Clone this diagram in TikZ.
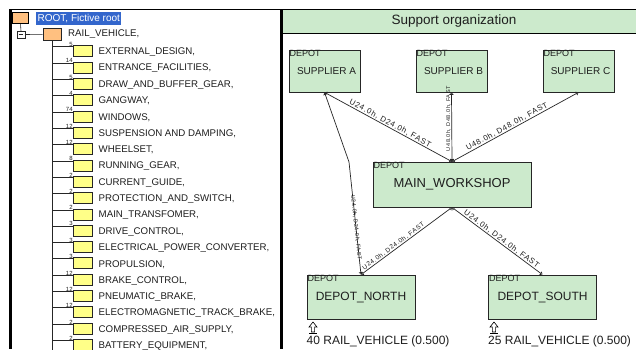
\documentclass[tikz,border=0pt]{standalone}
\usepackage{fontspec}
\setmainfont{Liberation Sans}
\newfontfamily\edgefont[LetterSpace=10]{Liberation Sans}
\usetikzlibrary{arrows.meta}
\definecolor{boxgreen}{RGB}{204,234,204}
\definecolor{peach}{RGB}{255,192,128}
\definecolor{ylw}{RGB}{255,255,136}
\definecolor{selblue}{RGB}{51,102,204}
\definecolor{txt}{RGB}{30,30,30}
\begin{document}
\begin{tikzpicture}[x=1pt,y=-1pt,
  treebox/.style={draw=black!85, fill=ylw, minimum width=19pt, minimum height=11pt, inner sep=0pt, line width=0.6pt},
  pbox/.style={draw=black!85, fill=peach, minimum width=18pt, minimum height=11.5pt, inner sep=0pt, line width=0.6pt},
  rootbox/.style={draw=black, fill=peach, minimum width=16pt, minimum height=11pt, inner sep=0pt, line width=1.6pt},
  minusbox/.style={draw=black!85, fill=white, minimum width=7.5pt, minimum height=7pt, inner sep=0pt, line width=0.5pt},
  treeline/.style={draw=black!85, line width=0.6pt},
  treetext/.style={font=\fontsize{9.7}{11}\selectfont, text=txt, inner sep=1pt, anchor=west},
  numtext/.style={font=\fontsize{6}{6}\selectfont, text=txt, inner sep=0.2pt, anchor=south east},
  depot/.style={draw=black!85, fill=boxgreen, line width=0.7pt, inner sep=0pt, text=txt},
  deplabel/.style={font=\fontsize{9}{10}\selectfont, text=txt, inner sep=0.5pt, anchor=north west},
  edge/.style={draw=black!85, line width=0.7pt, {Triangle[open,length=2.5pt,width=4pt]}-{Triangle[open,length=2.5pt,width=4pt]}},
  elabel/.style={font=\edgefont\fontsize{7.8}{8}\selectfont, text=txt, inner sep=0.5pt},
  slabel/.style={font=\edgefont\fontsize{6.4}{7}\selectfont, text=txt, inner sep=0.5pt},
  blabel/.style={font=\edgefont\fontsize{5.5}{6}\selectfont, text=txt, inner sep=0.5pt},
  uparr/.pic={
    \draw[black, line width=0.6pt, fill=white] (0,0) -- (4,5) -- (1.6,5) -- (1.6,10) -- (-1.6,10) -- (-1.6,5) -- (-4,5) -- cycle;
    \draw[black, line width=0.8pt] (-4,11) -- (4,11);
  }
]
\useasboundingbox (0,0) rectangle (636,349);
\fill[white] (0,0) rectangle (636,349);

% ---------- left panel: tree ----------
\begin{scope}
\clip (11,10) rectangle (280.5,349);
\node[rootbox] (root) at (20.5,18) {};
\node[fill=selblue, text=white, font=\fontsize{10}{12}\selectfont, inner xsep=1.5pt, inner ysep=0pt,
      minimum height=13pt, anchor=west] (roottxt) at (36,18.5) {ROOT, Fictive root};
\node[minusbox] (minus) at (21,34.5) {};
\draw[treeline] (minus.west) ++(1.5,0) -- ++(4.5,0);
\node[pbox] (rail) at (52,34.3) {};
\node[treetext] (railtxt) at (67,34.5) {RAIL\_VEHICLE,};
\draw[treeline] (root.south) -- (minus.north);
\draw[treeline] (minus.east) -- (rail.west);
\coordinate (spineend) at (52,352);
\draw[treeline] (rail.south) -- (spineend);
\foreach \num/\lab [count=\i from 0] in {
  5/{EXTERNAL\_DESIGN,},
  14/{ENTRANCE\_FACILITIES,},
  5/{DRAW\_AND\_BUFFER\_GEAR,},
  4/{GANGWAY,},
  74/{WINDOWS,},
  12/{SUSPENSION AND DAMPING,},
  12/{WHEELSET,},
  8/{RUNNING\_GEAR,},
  2/{CURRENT\_GUIDE,},
  2/{PROTECTION\_AND\_SWITCH,},
  2/{MAIN\_TRANSFOMER,},
  3/{DRIVE\_CONTROL,},
  3/{ELECTRICAL\_POWER\_CONVERTER,},
  3/{PROPULSION,},
  12/{BRAKE\_CONTROL,},
  12/{PNEUMATIC\_BRAKE,},
  12/{ELECTROMAGNETIC\_TRACK\_BRAKE,},
  2/{COMPRESSED\_AIR\_SUPPLY,},
  2/{BATTERY\_EQUIPMENT,}} {
  \pgfmathsetmacro\yy{52+16.33*\i}
  \node[treebox] (b\i) at (82.5,\yy-1) {};
  \node[treetext] (t\i) at (97.5,\yy) {\lab};
  \coordinate (s\i) at (52,\yy-5.5);
  \draw[treeline] (s\i) -- (b\i.west |- s\i);
  \node[numtext] (n\i) at ([shift={(0.3,1.6)}]b\i.north west) {\num};
}
\end{scope}

% ---------- frames ----------
\draw[black, line width=0.8pt] (9,9.5) -- (636,9.5);
\draw[black, line width=2.5pt] (10.3,9) -- (10.3,349);
\node[draw=black, line width=0.8pt, fill=boxgreen, minimum width=356pt, minimum height=23.5pt, inner sep=0pt,
      font=\fontsize{13.5}{15}\selectfont, text=txt] (hdr) at (460,21.5) {\hspace*{-12pt}Support organization};
\draw[black, line width=2.5pt] (281.5,9) -- (281.5,349);

% ---------- right panel: depots ----------
\node[depot, minimum width=71pt, minimum height=42pt, font=\fontsize{10}{12}\selectfont] (supA) at (324.5,71) {\hspace*{4pt}SUPPLIER A};
\node[depot, minimum width=71pt, minimum height=42pt, font=\fontsize{10}{12}\selectfont] (supB) at (451.5,71) {\hspace*{4pt}SUPPLIER B};
\node[depot, minimum width=71pt, minimum height=42pt, font=\fontsize{10}{12}\selectfont] (supC) at (578.5,71) {\hspace*{4pt}SUPPLIER C};
\node[depot, minimum width=158pt, minimum height=45pt, font=\fontsize{13}{15}\selectfont] (mw) at (452,184.5) {\raisebox{-1.5pt}{MAIN\_WORKSHOP}};
\node[depot, minimum width=108pt, minimum height=44pt, font=\fontsize{12}{14}\selectfont] (dn) at (361,297) {DEPOT\_NORTH};
\node[depot, minimum width=108pt, minimum height=44pt, font=\fontsize{12}{14}\selectfont] (ds) at (542.5,297) {DEPOT\_SOUTH};
\foreach \b in {supA,supB,supC,mw,dn,ds}
  \node[deplabel] (\b lab) at ([xshift=0.3pt]\b.north west) {DEPOT};

% ---------- connectors ----------
\coordinate (bendA) at (349,162);
\draw[edge] (supA.south) -- node[elabel, sloped, above, pos=0.5] {U24.0h, D24.0h, FAST} (mw.north);
\draw[edge] (supA.south) -- (bendA) -- node[blabel, sloped, above=-3pt, pos=0.58] {U24.0h, D24.0h, FAST} (dn.north);
\draw[edge] (supB.south) -- node[blabel, rotate=90, anchor=south, pos=0.38] {U48.0h, D48.0h, FAST} (mw.north);
\draw[edge] (supC.south) -- node[elabel, sloped, above, pos=0.55] {U48.0h, D48.0h, FAST} (mw.north);
\draw[edge] (mw.south) -- node[slabel, sloped, above, pos=0.62] {U24.0h, D24.0h, FAST} (dn.north);
\draw[edge] (mw.south) -- node[elabel, sloped, above, pos=0.52] {U24.0h, D24.0h, FAST} (ds.north);

% ---------- stock arrows & labels ----------
\pic at (313,322) {uparr};
\pic at (494,322) {uparr};
\node[font=\fontsize{12}{14}\selectfont, text=txt, inner sep=0pt, anchor=west] (dnstock) at (306.5,341) {40 RAIL\_VEHICLE (0.500)};
\node[font=\fontsize{12}{14}\selectfont, text=txt, inner sep=0pt, anchor=west] (dsstock) at (488,341) {25 RAIL\_VEHICLE (0.500)};
\end{tikzpicture}
\end{document}
